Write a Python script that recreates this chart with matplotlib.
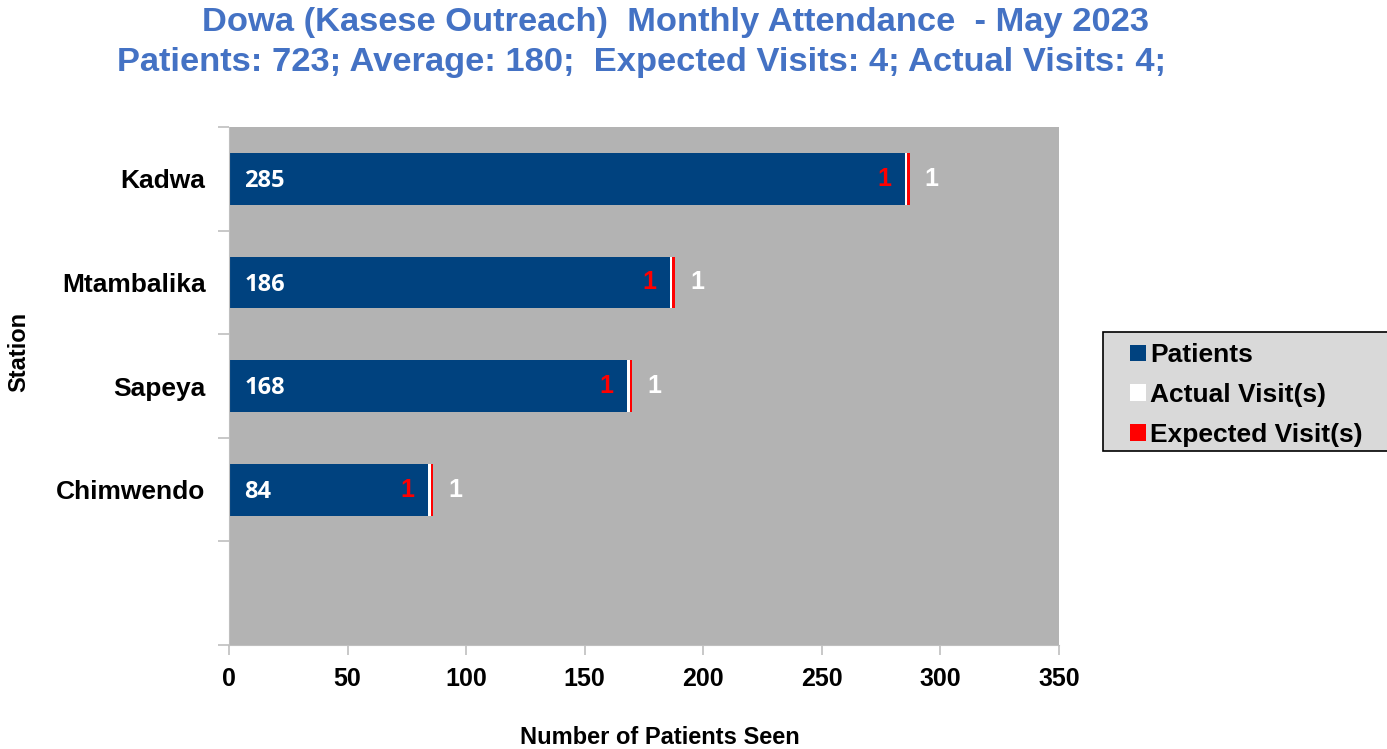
import matplotlib.pyplot as plt
from matplotlib.patches import Rectangle
import numpy as np

stations = ["Kadwa", "Mtambalika", "Sapeya", "Chimwendo"]
patients = [285, 186, 168, 84]
actual_visits = [1, 1, 1, 1]
expected_visits = [1, 1, 1, 1]

title_lines = ["Dowa (Kasese Outreach)  Monthly Attendance  - May 2023",
               "Patients: 723; Average: 180;  Expected Visits: 4; Actual Visits: 4;"]
x_ticks = [0, 50, 100, 150, 200, 250, 300, 350]

blue = "#00427F"
title_col = "#4472C4"
grid_col = "#BFBFBF"
W, H = 1387, 749

plt.rcParams['font.family'] = ['Liberation Sans', 'DejaVu Sans']
plt.rcParams['font.weight'] = 'bold'

fig = plt.figure(figsize=(13.87, 7.49), dpi=100)
ax = fig.add_axes([0.1651, 0.1388, 0.5984, 0.6916])
ax.set_facecolor("#B3B3B3")

# first slot at the bottom is left empty, like the original
ypos = np.arange(len(stations), 0, -1)
pat = np.array(patients)
act = np.array(actual_visits)
exp_ = np.array(expected_visits)

ax.barh(ypos, pat, height=0.5, color=blue, label="Patients")
ax.barh(ypos, act, left=pat, height=0.5, color="white", label="Actual Visit(s)")
ax.barh(ypos, exp_, left=pat + act, height=0.5, color="red", label="Expected Visit(s)")

for y, p, a, e in zip(ypos, pat, act, exp_):
    ax.annotate(str(p), (0, y), xytext=(11, -1.5), textcoords="offset points",
                ha="left", va="center", color="white", fontsize=17,
                family="Open Sans", fontweight="bold")
    ax.annotate(str(e), (p, y), xytext=(-10, 0), textcoords="offset points",
                ha="right", va="center", color="red", fontsize=18, fontweight="bold")
    ax.annotate(str(a), (p + a + e, y), xytext=(11, 0), textcoords="offset points",
                ha="left", va="center", color="white", fontsize=18, fontweight="bold")

ax.set_xlim(0, 350)
ax.set_ylim(-0.5, len(stations) + 0.5)
ax.set_xticks(x_ticks)
ax.set_xticklabels([str(t) for t in x_ticks], fontsize=18, fontweight="bold")
ax.set_yticks(ypos)
ax.set_yticklabels(stations, fontsize=19, fontweight="bold")
ax.set_yticks(np.arange(-0.5, len(stations) + 1, 1), minor=True)
ax.tick_params(axis="y", which="major", length=0, pad=17)
ax.tick_params(axis="y", which="minor", length=8, color=grid_col, width=1.2)
ax.tick_params(axis="x", length=7, color=grid_col, width=1.2, pad=9)

for s in ["top", "right"]:
    ax.spines[s].set_visible(False)
for s in ["left", "bottom"]:
    ax.spines[s].set_color(grid_col)

fig.text(660 / W, 1 - 737 / H, "Number of Patients Seen", ha="center", va="center",
         fontsize=17, fontweight="bold")
fig.text(19 / W, 1 - 352 / H, "Station", ha="center", va="center", rotation=90,
         fontsize=17, fontweight="bold")

fig.text(0.4867, 1 - 23 / H, title_lines[0], ha="center", va="center", fontsize=24.8,
         fontweight="bold", color=title_col)
fig.text(0.4625, 1 - 63 / H, title_lines[1], ha="center", va="center", fontsize=24.8,
         fontweight="bold", color=title_col)

# legend frame runs off the right edge, as in the original
fig.patches.append(Rectangle((1103 / W, 1 - 451 / H), 320 / W, 119 / H,
                             transform=fig.transFigure, facecolor="#D9D9D9",
                             edgecolor="black", linewidth=1.2, zorder=1))
leg = fig.legend(loc="upper left", bbox_to_anchor=(1125 / W, 1 - 338 / H),
                 fontsize=19, frameon=False, handlelength=0.6, handleheight=0.6,
                 handletextpad=0.15, labelspacing=0.6, borderpad=0.2,
                 borderaxespad=0)
leg.set_zorder(2)
for t in leg.get_texts():
    t.set_fontweight("bold")

fig.savefig("out.png", dpi=100)
